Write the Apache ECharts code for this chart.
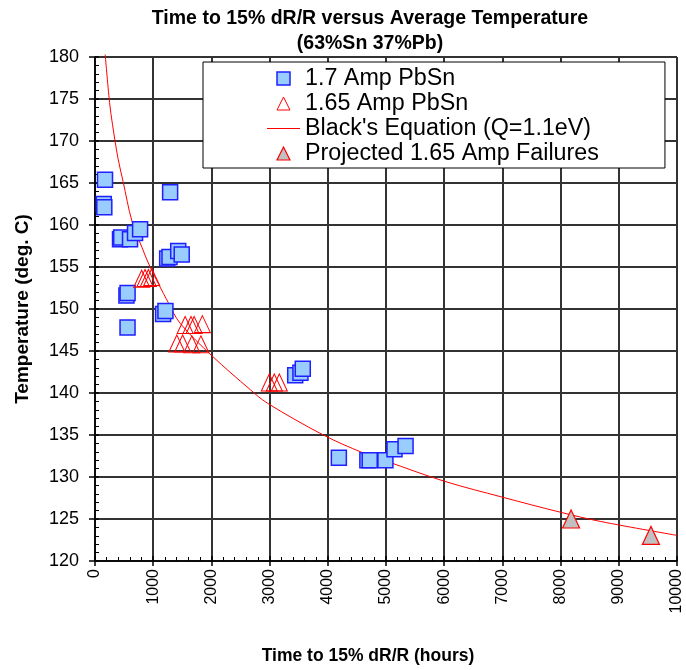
<!DOCTYPE html>
<html>
<head>
<meta charset="utf-8">
<script src="https://cdn.jsdelivr.net/npm/echarts@6/dist/echarts.min.js"></script>
<style>
  html, body { margin: 0; padding: 0; background: #fff; }
  #chart { width: 686px; height: 670px; }
</style>
</head>
<body>
<div id="chart"></div>
<script>
// Time to 15% dR/R (hours) vs average temperature (deg C), 63%Sn 37%Pb
const seriesNames = ['1.7 Amp PbSn', '1.65 Amp PbSn', "Black's Equation (Q=1.1eV)", 'Projected 1.65 Amp Failures'];

const amp170 = [
  [172, 165.4],
  [150, 162.5], [160, 162.1],
  [1291, 163.9],
  [430, 158.3], [450, 158.5], [602, 158.3], [688, 159.05], [775, 159.5],
  [1240, 156.0], [1280, 156.2], [1430, 156.9], [1490, 156.5],
  [540, 151.6], [560, 151.9],
  [1170, 149.4], [1210, 149.75],
  [559, 147.8],
  [3440, 142.1], [3530, 142.4], [3570, 142.9],
  [4190, 132.3],
  [4680, 132.0], [4720, 132.0],
  [4990, 132.0],
  [5146, 133.3], [5336, 133.7]
];

const amp165 = [
  [802, 153.6], [860, 153.7], [917, 153.7], [975, 153.8],
  [1549, 148.1], [1650, 148.1], [1704, 148.1], [1845, 148.2],
  [1406, 145.9], [1506, 145.9], [1664, 145.8], [1820, 145.8],
  [2995, 141.25], [3081, 141.25], [3167, 141.25]
];

const blackCurve = [
  [175, 180.3], [250, 174.6], [300, 172.0], [396, 167.9], [482, 165.2],
  [637, 160.4], [809, 157.3], [947, 155.0], [1256, 150.8], [1463, 148.3],
  [2014, 144.4], [2668, 140.4], [2960, 138.8], [3924, 135.0], [4596, 132.9],
  [5000, 131.9], [6000, 129.5], [7000, 127.6], [8000, 125.8], [8692, 124.7],
  [10000, 123.05]
];

const projected = [[8180, 125.0], [9552, 123.05]];

const xRange = [0, 10000, 1000];
const yRange = [120, 180, 5];

const FONT = 'Liberation Sans, Arial, sans-serif';
const GRID_COLOR = '#333333';
const RED = '#ff0000';

// marker styles shared by the series and their legend entries
const squareStyle = { color: '#99ccff', borderColor: '#1f1fff', borderWidth: 1.5, opacity: 1 };
const openTriStyle = { color: 'rgba(255,255,255,0)', borderColor: RED, borderWidth: 1, opacity: 1 };
const greyTriStyle = { color: '#c0c0c0', borderColor: RED, borderWidth: 1.2, opacity: 1 };
const curveLegendStyle = { color: RED, borderColor: RED, borderWidth: 0, opacity: 1 };

const ICON_SQUARE = 'path://M0,0H10V10H0Z';
const ICON_TRIANGLE = 'path://M5,0L10,10H0Z';
const ICON_LINE = 'path://M0,0H33V1H0Z';

const chart = echarts.init(document.getElementById('chart'), null, { renderer: 'canvas' });

const baseX = {
  type: 'value', min: xRange[0], max: xRange[1], interval: xRange[2], position: 'bottom'
};
const baseY = {
  type: 'value', min: yRange[0], max: yRange[1], interval: yRange[2], position: 'left'
};

chart.setOption({
  backgroundColor: '#fff',
  animation: false,
  title: {
    text: 'Time to 15% dR/R versus Average Temperature',
    subtext: '(63%Sn 37%Pb)',
    left: 365, top: 4, textAlign: 'center', itemGap: 5,
    textStyle: { fontFamily: FONT, fontSize: 19.5, fontWeight: 'bold', color: '#000' },
    subtextStyle: { fontFamily: FONT, fontSize: 19.5, fontWeight: 'bold', color: '#000' }
  },
  grid: { left: 95, right: 9, top: 57, bottom: 102, containLabel: false },
  legend: {
    data: [
      { name: seriesNames[0], icon: ICON_SQUARE, itemStyle: squareStyle },
      { name: seriesNames[1], icon: ICON_TRIANGLE, itemStyle: openTriStyle },
      { name: seriesNames[2], icon: ICON_LINE, itemStyle: curveLegendStyle,
        lineStyle: { color: RED, width: 1 } },
      { name: seriesNames[3], icon: ICON_TRIANGLE, itemStyle: greyTriStyle }
    ],
    orient: 'vertical',
    left: 203, top: 62,
    padding: [5, 66, 3, 64],
    itemWidth: 33, itemHeight: 13, itemGap: 2,
    symbolKeepAspect: true,
    backgroundColor: '#fff',
    borderColor: '#000', borderWidth: 1,
    textStyle: { fontFamily: FONT, fontSize: 23.3, lineHeight: 21, color: '#000' },
    selectedMode: false
  },
  xAxis: [
    Object.assign({}, baseX, {
      name: 'Time to 15% dR/R (hours)',
      nameLocation: 'middle', nameGap: 86,
      nameTextStyle: { fontFamily: FONT, fontSize: 17.5, fontWeight: 'bold', color: '#000', padding: [0, 36, 0, 0] },
      axisLine: { onZero: false, lineStyle: { color: '#000', width: 1.5 } },
      axisTick: { show: true, length: 5, lineStyle: { color: '#000', width: 1.5 } },
      axisLabel: {
        rotate: 90, fontFamily: FONT, fontSize: 16, color: '#000', margin: 8,
        formatter: v => String(v)
      },
      splitLine: { show: true, lineStyle: { color: GRID_COLOR, width: 2 } }
    }),
    Object.assign({}, baseX, {
      axisLine: { show: false },
      axisLabel: { show: false },
      splitLine: { show: false },
      axisTick: { show: true, inside: true, length: 5, lineStyle: { color: '#000', width: 1.5 } },
      minorTick: { show: true, splitNumber: 5, length: 4, lineStyle: { color: '#000', width: 1 } }
    })
  ],
  yAxis: [
    Object.assign({}, baseY, {
      name: 'Temperature (deg. C)',
      nameLocation: 'middle', nameGap: 63,
      nameTextStyle: { fontFamily: FONT, fontSize: 19, fontWeight: 'bold', color: '#000' },
      axisLine: { show: true, onZero: false, lineStyle: { color: '#000', width: 1.5 } },
      axisTick: { show: true, length: 6, lineStyle: { color: '#000', width: 1.5 } },
      axisLabel: { fontFamily: FONT, fontSize: 18, color: '#000', margin: 16 },
      splitLine: { show: true, lineStyle: { color: GRID_COLOR, width: 2 } }
    }),
    Object.assign({}, baseY, {
      axisLine: { show: false },
      axisLabel: { show: false },
      splitLine: { show: false },
      axisTick: { show: true, inside: true, length: 4, lineStyle: { color: '#000', width: 1.5 } },
      minorTick: { show: true, splitNumber: 5, length: 4, lineStyle: { color: '#000', width: 1 } }
    })
  ],
  series: [
    {
      name: seriesNames[2],
      type: 'line',
      data: blackCurve,
      smooth: 0.35,
      symbol: 'none',
      clip: false,
      z: 1,
      color: RED,
      lineStyle: { color: RED, width: 1 },
      itemStyle: { color: RED, borderColor: RED }
    },
    {
      name: seriesNames[0],
      type: 'scatter',
      data: amp170,
      symbol: 'rect',
      symbolSize: 15,
      z: 3,
      itemStyle: squareStyle
    },
    {
      name: seriesNames[1],
      type: 'scatter',
      data: amp165,
      symbol: 'triangle',
      symbolSize: [16, 17],
      z: 3,
      itemStyle: openTriStyle
    },
    {
      name: seriesNames[3],
      type: 'scatter',
      data: projected,
      symbol: 'triangle',
      symbolSize: [17, 18],
      z: 3,
      itemStyle: greyTriStyle
    }
  ]
});
</script>
</body>
</html>
